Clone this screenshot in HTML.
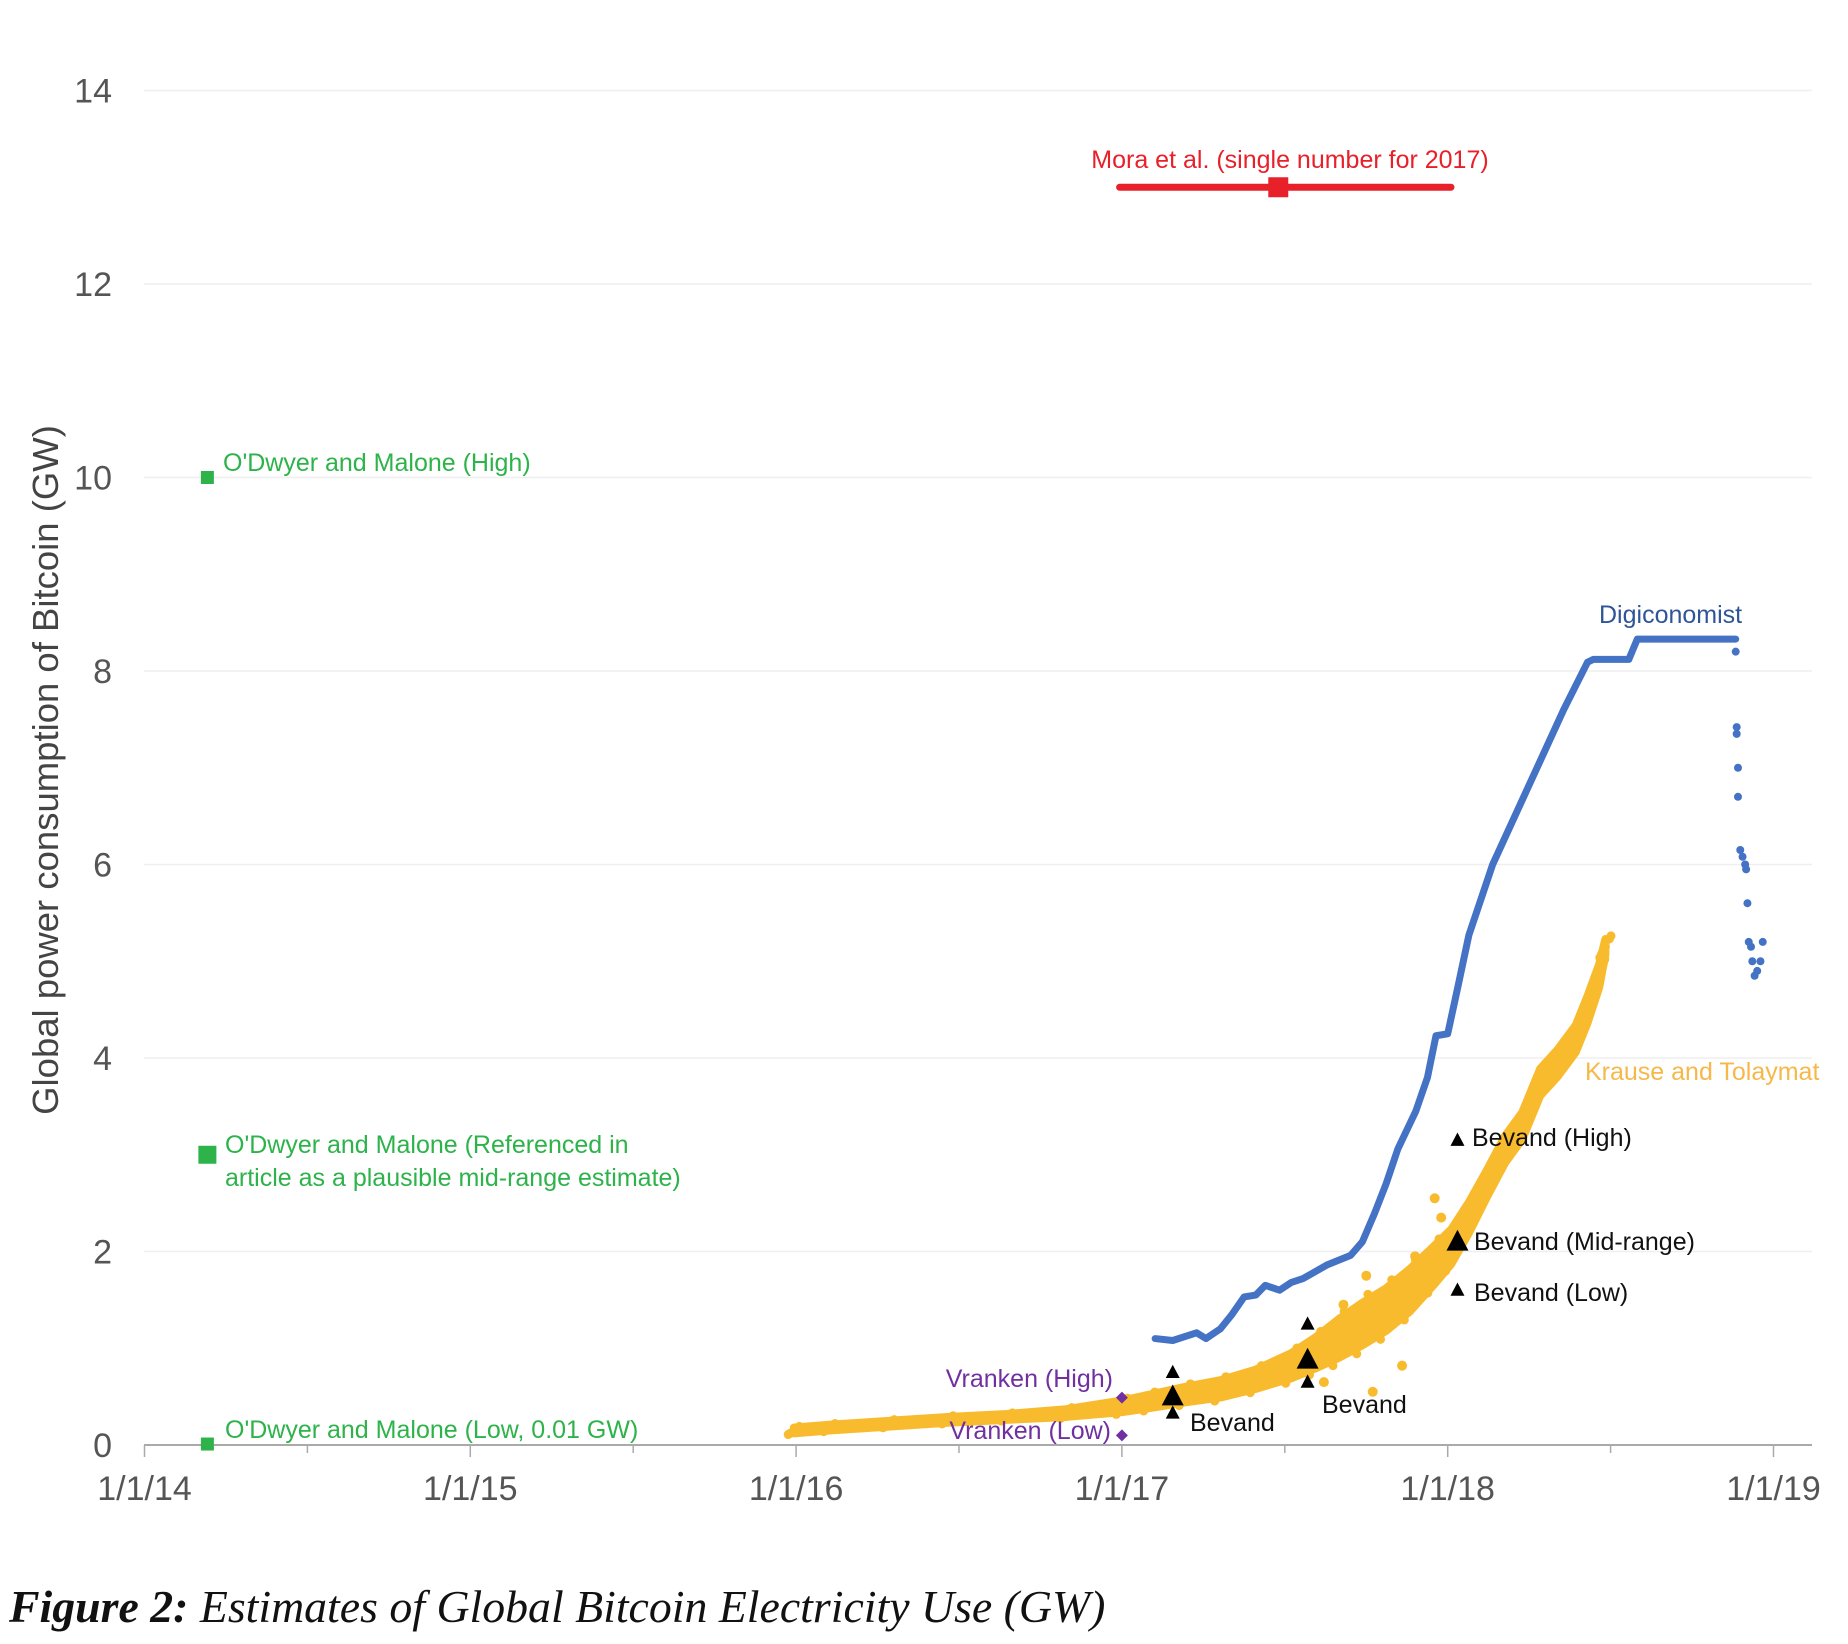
<!DOCTYPE html>
<html><head><meta charset="utf-8"><style>
html,body{margin:0;padding:0;background:#fff;}
svg{display:block;}
text{font-family:"Liberation Sans",sans-serif;}
</style></head><body>
<svg id="chart" width="1848" height="1644" viewBox="0 0 1848 1644" xmlns="http://www.w3.org/2000/svg">
<g id="grid"></g>
<g id="axes"></g>
<g id="marks"></g>
<g id="labels"></g>
<text x="0" y="0" transform="translate(58,770) rotate(-90)" text-anchor="middle" font-size="36.5" fill="#444">Global power consumption of Bitcoin (GW)</text>
<text x="9" y="1622" font-size="45.8" font-style="italic" fill="#111" style="font-family:'Liberation Serif',serif"><tspan font-weight="bold">Figure 2:</tspan> Estimates of Global Bitcoin Electricity Use (GW)</text>
</svg>
<script>
// ---- data ----
const yTicks = [0,2,4,6,8,10,12,14];
const xTickYears = [14,15,16,17,18,19];
const xTickLabels = ["1/1/14","1/1/15","1/1/16","1/1/17","1/1/18","1/1/19"];
const odwyerDates = [14.193,14.193,14.193];
const odwyerValues = [10,3,0.01];
const moraStart = 16.993, moraEnd = 18.01, moraMid = 17.48, moraValue = 13;
const vrankenDates = [17.0,17.0];
const vrankenValues = [0.49,0.1];
const bevandDates = [17.156,17.156,17.156,17.57,17.57,17.57,18.03,18.03,18.03];
const bevandValues = [0.75,0.5,0.33,1.25,0.88,0.65,3.15,2.1,1.6];
const bevandBig = [0,1,0,0,1,0,0,1,0];
const digiDates = [17.102,17.156,17.229,17.258,17.302,17.338,17.375,17.411,17.44,17.484,17.52,17.556,17.629,17.702,17.738,17.775,17.811,17.847,17.902,17.938,17.964,18.0,18.029,18.065,18.138,18.247,18.356,18.429,18.447,18.556,18.582,18.884];
const digiValues = [1.10,1.08,1.16,1.10,1.20,1.35,1.53,1.55,1.65,1.60,1.68,1.72,1.86,1.96,2.10,2.39,2.70,3.06,3.45,3.80,4.23,4.25,4.70,5.27,6.00,6.80,7.60,8.09,8.12,8.12,8.33,8.33];
const digiDotDates = [18.884,18.887,18.887,18.891,18.891,18.898,18.905,18.913,18.916,18.92,18.924,18.931,18.935,18.942,18.95,18.96,18.967];
const digiDotValues = [8.2,7.42,7.35,7.0,6.7,6.15,6.08,6.0,5.95,5.6,5.2,5.15,5.0,4.85,4.9,5.0,5.2];
const krauseDates = [15.993,16.102,16.284,16.465,16.647,16.829,17.0,17.084,17.193,17.302,17.411,17.52,17.593,17.665,17.738,17.811,17.884,17.956,18.011,18.065,18.12,18.175,18.229,18.284,18.338,18.393,18.429,18.465,18.484];
const krauseValues = [0.15,0.18,0.22,0.26,0.29,0.33,0.40,0.45,0.52,0.58,0.68,0.82,0.95,1.10,1.25,1.40,1.60,1.85,2.05,2.35,2.70,3.05,3.30,3.75,3.95,4.20,4.50,4.85,5.15];
const krauseSpread = [0.03,0.03,0.03,0.03,0.03,0.04,0.06,0.07,0.08,0.09,0.10,0.13,0.16,0.20,0.22,0.22,0.22,0.2,0.18,0.16,0.14,0.14,0.14,0.14,0.14,0.14,0.14,0.12,0.08];
const krauseOutDates = [17.56,17.62,17.77,17.86,17.96,17.98,17.7,17.8,17.64,17.9,17.75,17.68];
const krauseOutValues = [0.75,0.65,0.55,0.82,2.55,2.35,1.25,1.3,1.0,1.95,1.75,1.45];

// ---- scales ----
const X0 = 144.5, YEAR = 325.8, Y0 = 1445, UNIT = 96.75;
const xs = d => X0 + (d - 14) * YEAR;
const ys = v => Y0 - v * UNIT;
const NS = "http://www.w3.org/2000/svg";
function mk(tag, parent, attrs){const e=document.createElementNS(NS,tag);for(const k in attrs)e.setAttribute(k,attrs[k]);parent.appendChild(e);return e;}
const grid=document.getElementById('grid'), axes=document.getElementById('axes'), marks=document.getElementById('marks'), labels=document.getElementById('labels');

yTicks.forEach(t=>{
  if(t>0){const l=mk('line',grid,{x1:144,x2:1812,y1:ys(t),y2:ys(t),stroke:'#efefef','stroke-width':1.5});
  
  }
  const tx=mk('text',axes,{x:112,y:ys(t)+12,'text-anchor':'end','font-size':34,fill:'#555'});
  tx.textContent=t;
  
  
});
const ax=mk('line',axes,{x1:144,x2:1812,y1:Y0,y2:Y0,stroke:'#aaa','stroke-width':2});


for(let h=14; h<=19.001; h+=0.5){
  const tk=mk('line',axes,{x1:xs(h),x2:xs(h),y1:Y0,y2:Y0+(Number.isInteger(Math.round(h*100)/100)?12:8),stroke:'#aaa','stroke-width':1.5});
  
  
}
xTickYears.forEach((y,i)=>{
  const tx=mk('text',axes,{x:xs(y),y:1500,'text-anchor':'middle','font-size':34,fill:'#555'});
  tx.textContent=xTickLabels[i];
  
  
});

// Krause band + dots
let up='',dn='';
krauseDates.forEach((d,i)=>{up+=(i?'L':'M')+xs(d)+','+ys(krauseValues[i]+krauseSpread[i]);});
for(let i=krauseDates.length-1;i>=0;i--){dn+='L'+xs(krauseDates[i])+','+ys(krauseValues[i]-krauseSpread[i]);}
const band=mk('path',marks,{d:up+dn+'Z',fill:'#f9bb2e',stroke:'#f9bb2e','stroke-width':8,'stroke-linejoin':'round'});


krauseDates.forEach((d,i)=>{
  [-1.4,-1,0,1,1.4].forEach(k=>{
    const c=mk('circle',marks,{cx:xs(d)+k*4,cy:ys(krauseValues[i]+k*krauseSpread[i]),r:4.5,fill:'#f9bb2e'});
    
    
  });
});
krauseOutDates.forEach((d,i)=>{
  const c=mk('circle',marks,{cx:xs(d),cy:ys(krauseOutValues[i]),r:5,fill:'#f9bb2e'});
  
  
});

// Digiconomist
const dp=digiDates.map((d,i)=>xs(d)+','+ys(digiValues[i])).join(' ');
const dl=mk('polyline',marks,{points:dp,fill:'none',stroke:'#4472c4','stroke-width':7,'stroke-linejoin':'round','stroke-linecap':'round'});


digiDotDates.forEach((d,i)=>{
  const c=mk('circle',marks,{cx:xs(d),cy:ys(digiDotValues[i]),r:4,fill:'#4472c4'});
  
  
});

// Mora
const ml=mk('line',marks,{x1:xs(moraStart),x2:xs(moraEnd),y1:ys(moraValue),y2:ys(moraValue),stroke:'#e8202a','stroke-width':7,'stroke-linecap':'round'});


const ms=mk('rect',marks,{x:xs(moraMid)-10,y:ys(moraValue)-10,width:20,height:20,fill:'#e8202a'});



// O'Dwyer
odwyerDates.forEach((d,i)=>{
  const s=i===1?18:13;
  const r=mk('rect',marks,{x:xs(d)-s/2,y:ys(odwyerValues[i])-s/2,width:s,height:s,fill:'#2db34a'});
  
  
});

// Vranken
vrankenDates.forEach((d,i)=>{
  const x=xs(d),y=ys(vrankenValues[i]);
  const p=mk('polygon',marks,{points:`${x},${y-6} ${x+6},${y} ${x},${y+6} ${x-6},${y}`,fill:'#7030a0'});
  
  
});

// Bevand
bevandDates.forEach((d,i)=>{
  const x=xs(d),y=ys(bevandValues[i]),s=bevandBig[i]?11:7;
  const p=mk('polygon',marks,{points:`${x},${y-s*1.1} ${x+s},${y+s*0.8} ${x-s},${y+s*0.8}`,fill:'#000'});
  
  
});

// annotations
const ann=[
 ["Mora et al. (single number for 2017)",1290,168,'middle','#e8202a','mora-label'],
 ["Digiconomist",1599,623,'start','#2f5597','digiconomist-label'],
 ["Krause and Tolaymat",1585,1080,'start','#f7b84a','krause-label'],
 ["Bevand (High)",1472,1146,'start','#111','bevand-high-label'],
 ["Bevand (Mid-range)",1474,1250,'start','#111','bevand-mid-label'],
 ["Bevand (Low)",1474,1301,'start','#111','bevand-low-label'],
 ["Bevand",1190,1431,'start','#111','bevand-2017-label'],
 ["Bevand",1322,1413,'start','#111','bevand-mid2017-label'],
 ["Vranken (High)",1113,1387,'end','#7030a0','vranken-high-label'],
 ["Vranken (Low)",1111,1439,'end','#7030a0','vranken-low-label'],
 ["O'Dwyer and Malone (High)",223,471,'start','#2db34a','odwyer-high-label'],
 ["O'Dwyer and Malone (Referenced in",225,1153,'start','#2db34a','odwyer-mid-label-1'],
 ["article as a plausible mid-range estimate)",225,1186,'start','#2db34a','odwyer-mid-label-2'],
 ["O'Dwyer and Malone (Low, 0.01 GW)",225,1438,'start','#2db34a','odwyer-low-label']
];
ann.forEach(a=>{
  const t=mk('text',labels,{x:a[1],y:a[2],'text-anchor':a[3],fill:a[4],'font-size':25});
  t.textContent=a[0];
  
  
});
</script>
</body></html>
